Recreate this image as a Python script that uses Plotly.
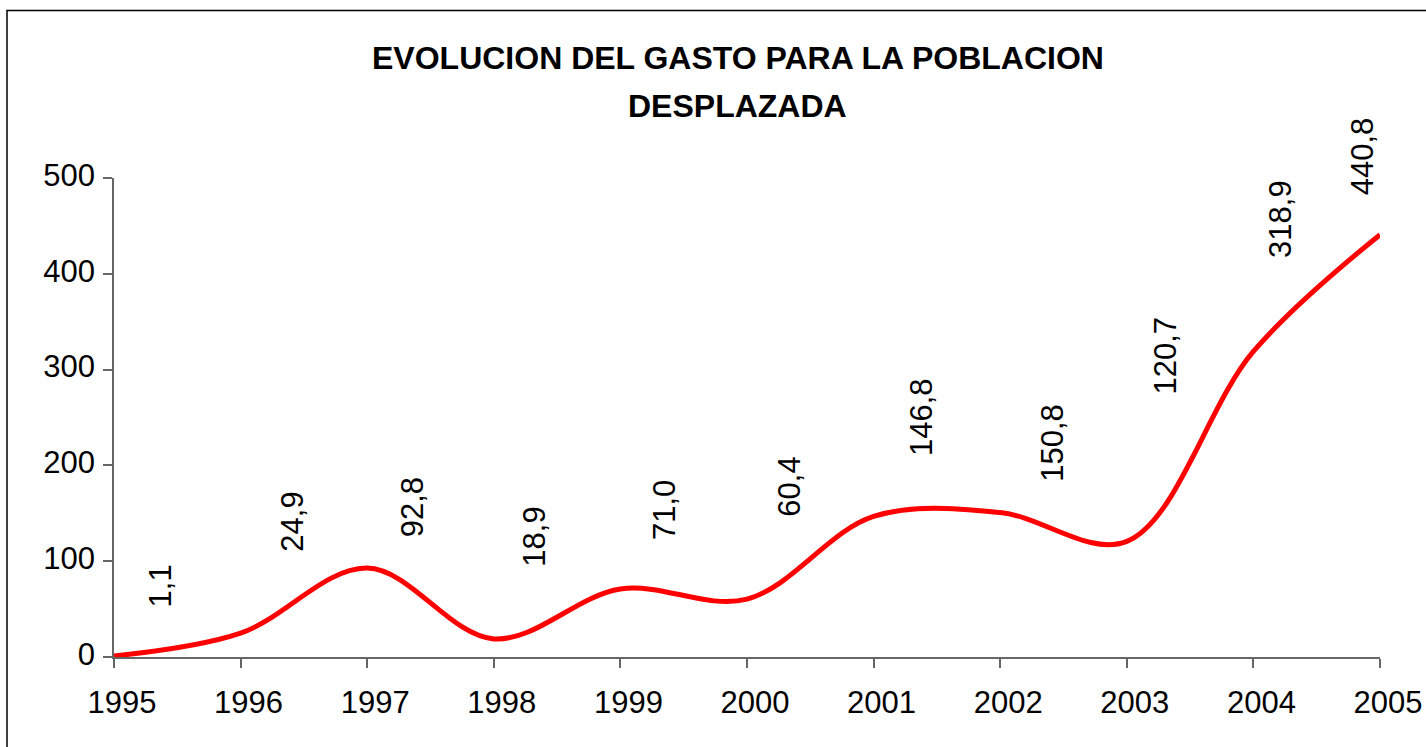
import plotly.graph_objects as go

years = [1995, 1996, 1997, 1998, 1999, 2000, 2001, 2002, 2003, 2004, 2005]
gasto = [1.1, 24.9, 92.8, 18.9, 71.0, 60.4, 146.8, 150.8, 120.7, 318.9, 440.8]
label_text = ["1,1", "24,9", "92,8", "18,9", "71,0", "60,4", "146,8", "150,8", "120,7", "318,9", "440,8"]
title_lines = ["EVOLUCION DEL GASTO PARA LA POBLACION", "DESPLAZADA"]
# label offsets in pixels (style, relative to each data point)
label_dx = [46, 51.5, 45, 41, 44.6, 42.5, 48, 52, 39, 27, -17.5]
label_dy = [48, 81.6, 31, 72, 49, 82, 60, 31, 146.6, 94, 39]

W, H = 1426, 747
ML, MR, MT, MB = 114, 46, 177.7, 89.5
FONT = "Liberation Sans, Arial, sans-serif"
pw = W - ML - MR
ph = H - MT - MB


def px_x(p):
    return (p - ML) / pw


def px_y(p):
    return (H - MB - p) / ph


fig = go.Figure()
fig.add_trace(go.Scatter(
    x=years, y=gasto, mode="lines",
    line=dict(color="#FF0000", width=5, shape="spline", smoothing=1.0),
    hoverinfo="x+y", showlegend=False,
))

for x, y, t, dx, dy in zip(years, gasto, label_text, label_dx, label_dy):
    fig.add_annotation(x=x, y=y, xref="x", yref="y", text=t, showarrow=False,
                       textangle=-90, xanchor="center", yanchor="bottom",
                       xshift=dx, yshift=dy - 2,
                       font=dict(family=FONT, size=31, color="#000000"))

for line, cy in zip(title_lines, [58, 106]):
    fig.add_annotation(x=px_x(737.5), y=px_y(cy), xref="paper", yref="paper",
                       text="<b>" + line + "</b>", showarrow=False,
                       xanchor="center", yanchor="middle",
                       font=dict(family=FONT, size=32, color="#000000"))

fig.add_shape(type="rect", xref="paper", yref="paper",
              x0=px_x(7), x1=px_x(W + 20),
              y0=px_y(H + 20), y1=px_y(10),
              line=dict(color="#000000", width=1.5), fillcolor="rgba(0,0,0,0)",
              layer="above")

fig.update_layout(
    width=W, height=H, autosize=False,
    margin=dict(l=ML, r=MR, t=MT, b=MB, autoexpand=False),
    paper_bgcolor="white", plot_bgcolor="white",
    font=dict(family=FONT, color="#000000"),
    xaxis=dict(range=[1995, 2005], tickmode="linear", tick0=1995, dtick=1,
               tickformat="d", showgrid=False, zeroline=False, automargin=False,
               showline=True, linecolor="#666666", linewidth=1.5,
               ticks="outside", ticklen=9, tickcolor="#666666", tickwidth=1.5,
               ticklabelstandoff=8, ticklabelshift=8,
               tickfont=dict(family=FONT, size=31, color="#000000")),
    yaxis=dict(range=[0, 500], tickmode="linear", tick0=0, dtick=100,
               showgrid=False, zeroline=False, automargin=False,
               showline=True, linecolor="#666666", linewidth=1.5,
               ticks="outside", ticklen=9, tickcolor="#666666", tickwidth=1.5,
               ticklabelstandoff=2, ticklabelshift=-3,
               tickfont=dict(family=FONT, size=31, color="#000000")),
)

fig.write_html("out.html", config={"displayModeBar": False},
               post_script="document.body.style.margin='0';document.body.style.overflow='hidden';")
